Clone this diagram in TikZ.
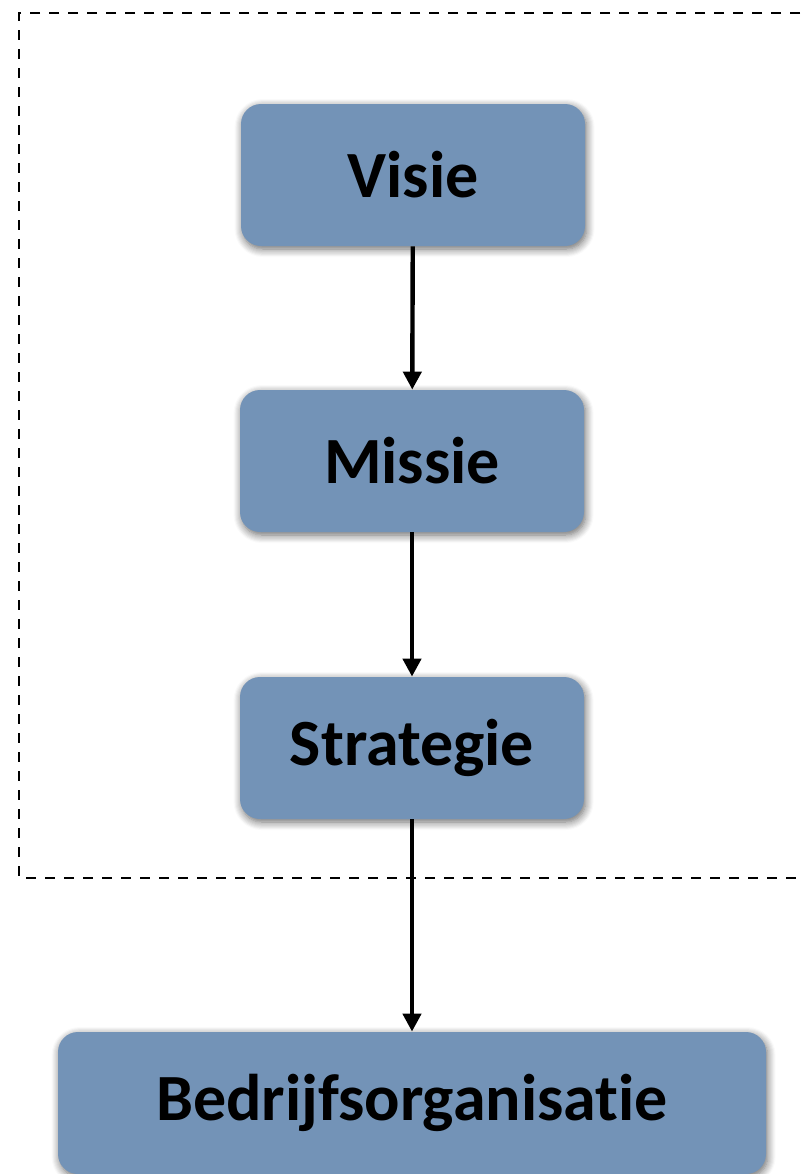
\documentclass[tikz,border=0pt]{standalone}
\usepackage{fontspec}
\setmainfont{Carlito}[Ligatures=NoCommon,Contextuals=NoAlternate,RawFeature={-liga;-clig;-calt;-dlig}]
\usetikzlibrary{arrows.meta}
\usetikzlibrary{shadows.blur}

\definecolor{boxblue}{RGB}{115,147,183}

\begin{document}
\begin{tikzpicture}[x=0.5pt,y=-0.5pt,
    stepbox/.style={draw=none,fill=boxblue,rounded corners=10pt,
        minimum width=172pt,minimum height=71pt,inner sep=0pt,
        font=\fontsize{33}{40}\selectfont\bfseries,
        blur shadow={shadow xshift=0.8pt,shadow yshift=-1.5pt,shadow blur steps=8,
            shadow blur radius=4pt,shadow opacity=60}},
    flow/.style={line width=2.2pt,-{Triangle[length=9pt,width=9pt]}}]
    % Page size
    \useasboundingbox (0,0) rectangle (800,1174);

    % Dashed frame round the first three steps
    \draw[line width=0.8pt,dash pattern=on 5pt off 4.5pt] (800,13) -- (19,13) -- (19,878) -- (800,878);

    % Steps
    \node[stepbox] (visie) at (413,175) {Visie};
    \node[stepbox] (missie) at (412,461) {Missie};
    \node[stepbox] (strategie) at (412,748) {Strategie};
    \node[stepbox,minimum width=354pt] (organisatie) at (412,1103) {Bedrijfsorganisatie};

    % Arrows
    \draw[flow] (visie) -- (missie);
    \draw[flow] (missie) -- (strategie);
    \draw[flow] (strategie) -- (organisatie);
\end{tikzpicture}
\end{document}
